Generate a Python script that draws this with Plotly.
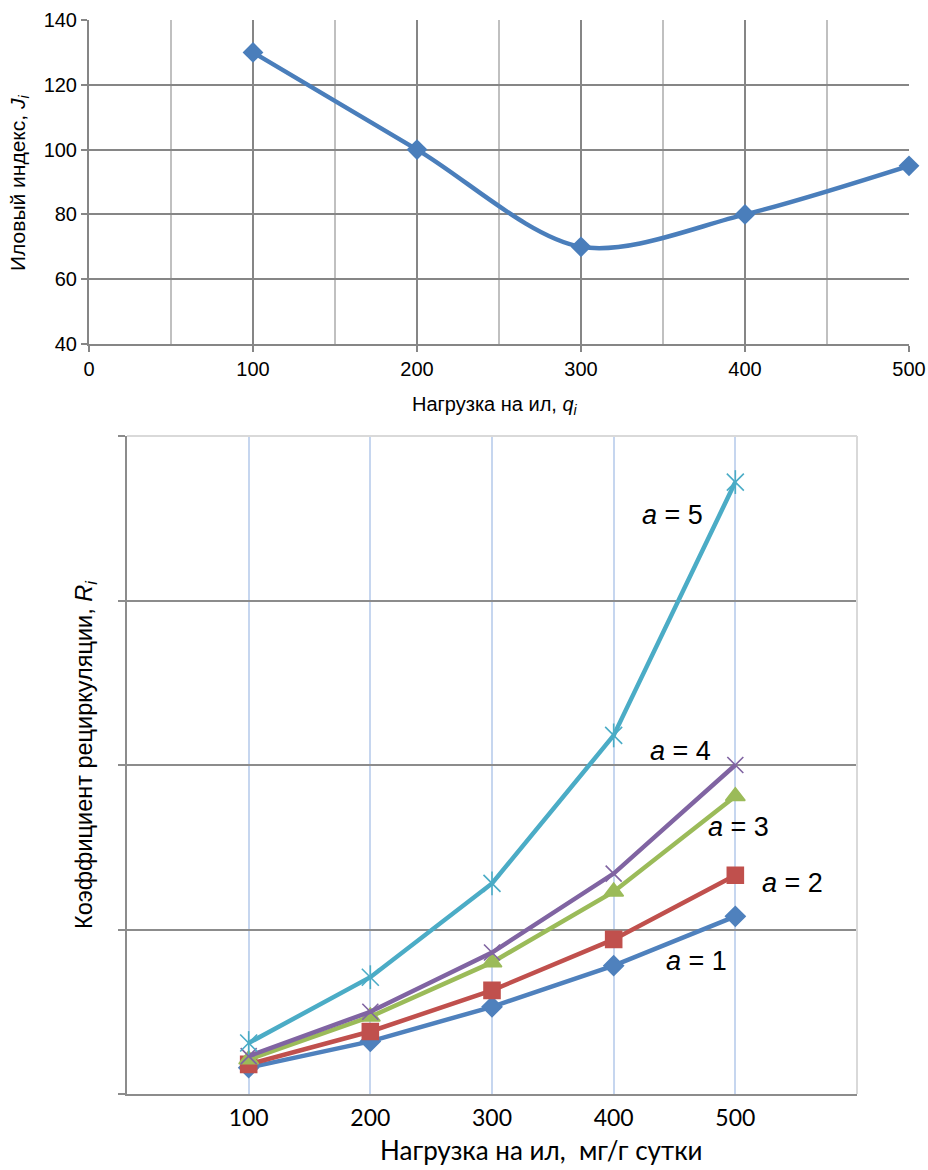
import plotly.graph_objects as go

# ---- data: top chart ----
load_top = [100, 200, 300, 400, 500]
sludge_index = [130, 100, 70, 80, 95]

# ---- data: bottom chart ----
load_bottom = [100, 200, 300, 400, 500]
r_a1 = [0.16, 0.32, 0.53, 0.78, 1.08]
r_a2 = [0.18, 0.38, 0.63, 0.94, 1.33]
r_a3 = [0.21, 0.47, 0.80, 1.23, 1.81]
r_a4 = [0.23, 0.50, 0.86, 1.34, 2.00]
r_a5 = [0.31, 0.71, 1.28, 2.18, 3.72]
series_names = ["a = 1", "a = 2", "a = 3", "a = 4", "a = 5"]
series_colors = ["#4f81bd", "#c0504d", "#9bbb59", "#8064a2", "#4bacc6"]
series_symbols = ["diamond", "square", "triangle-up", "x-thin-open", "x-thin-open"]
series_sizes = [15, 16, 17, 16, 17]

W, H = 928, 1170

def px_x(a, b):
    return [a / W, b / W]

def px_y(top, bottom):
    return [1 - bottom / H, 1 - top / H]

def pos(x, y):
    return dict(x=x / W, y=1 - y / H, xanchor="center", yanchor="middle")

fig = go.Figure()

fig.add_trace(go.Scatter(
    x=load_top, y=sludge_index, mode="lines+markers",
    line=dict(color="#4a7ebb", width=4.5, shape="spline", smoothing=0.9),
    marker=dict(symbol="diamond", size=16, color="#4a7ebb"),
    xaxis="x", yaxis="y", showlegend=False, cliponaxis=False))

all_r = [r_a1, r_a2, r_a3, r_a4, r_a5]
for vals, name, col, sym, sz in zip(all_r, series_names, series_colors, series_symbols, series_sizes):
    fig.add_trace(go.Scatter(
        x=load_bottom, y=vals, mode="lines+markers", name=name,
        line=dict(color=col, width=4.5),
        marker=dict(symbol=sym, size=sz, color=col, line=dict(color=col, width=1.6)),
        xaxis="x2", yaxis="y2", showlegend=False, cliponaxis=False))

# vertical stroke of the star marker for a = 5
fig.add_trace(go.Scatter(
    x=load_bottom, y=r_a5, mode="markers",
    marker=dict(symbol="line-ns-open", size=17, color=series_colors[4],
                line=dict(color=series_colors[4], width=1.6)),
    xaxis="x2", yaxis="y2", showlegend=False, cliponaxis=False))

top_font = dict(family="Liberation Sans, Arial", size=20, color="#000000")
bot_font = dict(family="Lato, Open Sans", size=23, color="#000000")

fig.update_layout(
    width=W, height=H, autosize=False,
    margin=dict(l=0, r=0, t=0, b=0, pad=0, autoexpand=False),
    paper_bgcolor="white", plot_bgcolor="white",
    xaxis=dict(domain=px_x(89, 909), range=[0, 500], dtick=100, tick0=0,
               showgrid=True, gridcolor="#868686", gridwidth=1.5,
               minor=dict(dtick=50, showgrid=True, gridcolor="#c0c0c0", gridwidth=1.5),
               showline=True, linecolor="#868686", linewidth=2,
               ticks="outside", ticklen=6, tickcolor="#868686", tickwidth=1.5,
               tickfont=top_font, anchor="y", zeroline=False, automargin=False),
    yaxis=dict(domain=px_y(20, 344), range=[40, 140], dtick=20,
               showgrid=True, gridcolor="#868686", gridwidth=1.5,
               showline=True, linecolor="#868686", linewidth=2,
               ticks="outside", ticklen=6, tickcolor="#868686", tickwidth=1.5,
               tickfont=top_font, anchor="x", zeroline=False, automargin=False),
    xaxis2=dict(domain=px_x(127, 857), range=[0, 600],
                tickvals=[100, 200, 300, 400, 500], ticktext=["100", "200", "300", "400", "500"],
                showgrid=True, gridcolor="#c6d6ef", gridwidth=1.5,
                showline=True, linecolor="#8c8c8c", linewidth=2,
                ticks="outside", ticklen=2, tickcolor="rgba(0,0,0,0)",
                tickfont=bot_font, anchor="y2", zeroline=False, automargin=False),
    yaxis2=dict(domain=px_y(436, 1094), range=[0, 4], dtick=1,
                showgrid=True, gridcolor="#8c8c8c", gridwidth=1.5,
                showline=True, linecolor="#8c8c8c", linewidth=2,
                ticks="outside", ticklen=7, tickcolor="#8c8c8c", tickwidth=1.5,
                showticklabels=False, anchor="x2", zeroline=False, automargin=False),
)

# light border on top and right of bottom chart
fig.add_shape(type="line", xref="x2 domain", yref="y2 domain", x0=0, x1=1, y0=1, y1=1,
              line=dict(color="#d9d9d9", width=2), layer="above")
fig.add_shape(type="line", xref="x2 domain", yref="y2 domain", x0=1, x1=1, y0=0, y1=1,
              line=dict(color="#d9d9d9", width=2), layer="above")

# axis titles
fig.add_annotation(text="Нагрузка на ил, <i>q</i><sub><i>i</i></sub>", xref="paper", yref="paper",
                   **pos(495, 405), showarrow=False,
                   font=dict(family="Liberation Sans, Arial", size=20, color="#000"))
fig.add_annotation(text="Иловый индекс, <i>J</i><sub><i>i</i></sub>", xref="paper", yref="paper",
                   **pos(19, 183), showarrow=False, textangle=-90,
                   font=dict(family="Liberation Sans, Arial", size=21, color="#000"))
fig.add_annotation(text="Нагрузка на ил,  мг/г сутки", xref="paper", yref="paper",
                   **pos(541, 1150), showarrow=False,
                   font=dict(family="Lato, Open Sans", size=26, color="#000"))
fig.add_annotation(text="Коэффициент рециркуляции, <i>R</i><sub><i>i</i></sub>", xref="paper", yref="paper",
                   **pos(85, 755), showarrow=False, textangle=-90,
                   font=dict(family="Liberation Sans, Arial", size=23.5, color="#000"))

# series labels
label_pos = [(696, 961), (792, 883), (738, 827), (680, 751), (672, 515)]
for name, (lx, ly) in zip(series_names, label_pos):
    fig.add_annotation(text="<i>a</i>" + name[1:], xref="paper", yref="paper",
                       **pos(lx, ly), showarrow=False,
                       font=dict(family="Liberation Sans, Arial", size=27, color="#000"))

fig.write_html("out.html", config={"displayModeBar": False},
               post_script="document.body.style.margin='0';document.body.style.overflow='hidden';")
